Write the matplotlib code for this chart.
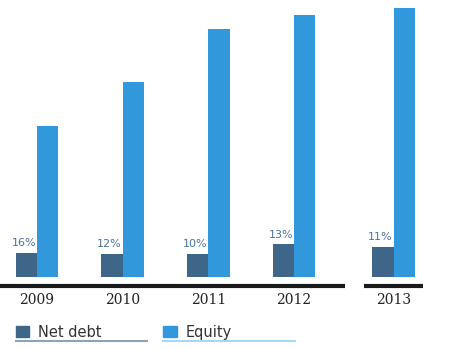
import numpy as np
import matplotlib
matplotlib.use("Agg")
import matplotlib.pyplot as plt
from matplotlib.patches import Rectangle
from matplotlib.lines import Line2D

# values (relative units)
years = ["2009", "2010", "2011", "2012", "2013"]
net_debt = [24.4, 23.5, 23.4, 32.8, 30.0]
equity = [151.0, 195.3, 247.7, 262.0, 269.3]
net_debt_pct = ["16%", "12%", "10%", "13%", "11%"]

# colours
c_debt = "#3e6689"
c_equity = "#3198dc"
c_pct = "#4a729a"

W, H = 454, 349
fig = plt.figure(figsize=(W / 100, H / 100), dpi=100)
ax = fig.add_axes([0, (H - 277) / H, 1, 277 / H])

# group positions: 2013 sits a little apart from the rest
xpos = np.array([0, 1, 2, 3, 4.16])
bw = 0.249

ax.bar(xpos - bw / 2, net_debt, bw, color=c_debt, linewidth=0)
ax.bar(xpos + bw / 2, equity, bw, color=c_equity, linewidth=0)

ax.set_xlim(-0.432, 4.866)
ax.set_ylim(0, 277)
ax.axis("off")

# percentage labels above net debt bars
for x, v, s in zip(xpos, net_debt, net_debt_pct):
    ax.annotate(s, (x - bw / 2, v), xytext=(-2.5, 4.5), textcoords="offset pixels",
                ha="center", va="bottom", fontsize=8, color=c_pct)

# baseline segments
ax.plot([-0.432, 3.598], [-9, -9], color="#1a1a1a", lw=3, clip_on=False,
        solid_capstyle="butt")
ax.plot([3.82, 4.51], [-9, -9], color="#1a1a1a", lw=3, clip_on=False,
        solid_capstyle="butt")

# year labels
for x, y in zip(xpos, years):
    ax.text(x, -23.5, y, ha="center", va="center", fontsize=10,
            family="DejaVu Serif", color="#222222")

# legend, built by hand
def legend_item(x0, x1, color, ucolor, label):
    fig.patches.append(Rectangle((x0 / W, 1 - 337 / H), 13.5 / W, 11.5 / H,
                                 transform=fig.transFigure, color=color))
    fig.text((x0 + 23) / W, 1 - 337 / H, label, fontsize=10.5, color="#333333",
             ha="left", va="baseline")
    fig.add_artist(Line2D([x0 / W, x1 / W], [1 - 341 / H, 1 - 341 / H],
                          transform=fig.transFigure, color=ucolor, lw=1.5))

legend_item(15.5, 147, c_debt, "#8ea3b8", "Net debt")
legend_item(163, 295, c_equity, "#a8d6f5", "Equity")

fig.savefig("out.png", dpi=100)
